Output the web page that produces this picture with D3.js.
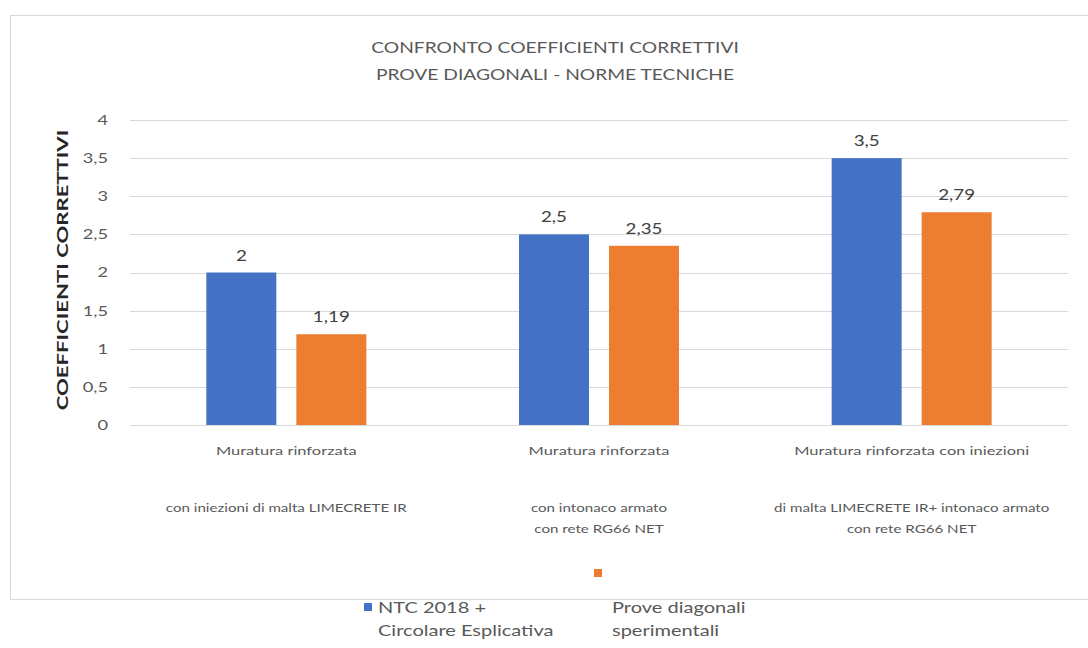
<!DOCTYPE html>
<html><head><meta charset="utf-8">
<script src="https://cdn.jsdelivr.net/npm/d3@7"></script>
<style>body{margin:0;background:#fff}svg{display:block;font-family:Lato,"Open Sans",sans-serif}</style>
</head><body><svg id="c" width="1088" height="648"></svg>
<script>
const categories = ["A","B","C"];
const catLine1 = ["Muratura rinforzata","Muratura rinforzata","Muratura rinforzata con iniezioni"];
const catLine2 = [["con iniezioni di malta LIMECRETE IR"],["con intonaco armato","con rete RG66 NET"],["di malta LIMECRETE IR+ intonaco armato","con rete RG66 NET"]];
const seriesNames = [["NTC 2018 +","Circolare Esplicativa"],["Prove diagonali","sperimentali"]];
const ntc = [2, 2.5, 3.5];
const prove = [1.19, 2.35, 2.79];
const labelsNtc = ["2","2,5","3,5"];
const labelsProve = ["1,19","2,35","2,79"];
const yTicks = [0,0.5,1,1.5,2,2.5,3,3.5,4];
const yTickLabels = ["0","0,5","1","1,5","2","2,5","3","3,5","4"];
const titleLines = ["CONFRONTO COEFFICIENTI CORRETTIVI","PROVE DIAGONALI - NORME TECNICHE"];
const yTitle = "COEFFICIENTI CORRETTIVI";
const colors = ["#4472C4","#ED7D31"];

const svg = d3.select("#c");
function widen(sel, f){
  sel.each(function(){
    const w = this.getComputedTextLength();
    this.setAttribute("textLength", w*f);
    this.setAttribute("lengthAdjust","spacingAndGlyphs");
  });
}
// chart border
svg.append("rect").attr("x",10.5).attr("y",15.5).attr("width",1100).attr("height",584)
  .attr("fill","none").attr("stroke","#d9d9d9");

const x = d3.scaleBand().domain(categories).range([130,1068]);
const y = d3.scaleLinear().domain([0,4]).range([425,120]);

// grid
svg.append("g").selectAll("line").data(yTicks).join("line")
  .attr("x1",130).attr("x2",1068).attr("y1",d=>Math.round(y(d))+0.5).attr("y2",d=>Math.round(y(d))+0.5)
  .attr("stroke","#d9d9d9");

// y tick labels
widen(svg.append("g").selectAll("text").data(yTicks).join("text")
  .attr("x",108).attr("y",d=>y(d)).attr("dy","0.35em").attr("text-anchor","end")
  .attr("font-size",14).attr("fill","#595959").text((d,i)=>yTickLabels[i]), 1.3);

// y title
widen(svg.append("text").attr("transform","translate(68,270) rotate(-90)").attr("text-anchor","middle")
  .attr("font-size",16).attr("font-weight","bold").attr("fill","#262626").text(yTitle), 1.38);

// title
widen(svg.append("g").selectAll("text").data(titleLines).join("text")
  .attr("x",555).attr("y",(d,i)=>53+i*27).attr("text-anchor","middle").attr("font-size",15)
  .attr("fill","#595959").text(d=>d), 1.28);

const bw = 70, gap = 20;
const series = [ntc, prove];
const labs = [labelsNtc, labelsProve];
series.forEach((s,si)=>{
  const g = svg.append("g");
  g.selectAll("rect").data(s).join("rect")
    .attr("x",(d,i)=>x(categories[i])+x.bandwidth()/2 - bw - gap/2 + si*(bw+gap))
    .attr("y",d=>y(d)).attr("width",bw).attr("height",d=>y(0)-y(d)).attr("fill",colors[si]);
  widen(g.selectAll("text").data(s).join("text")
    .attr("x",(d,i)=>x(categories[i])+x.bandwidth()/2 - bw/2 - gap/2 + si*(bw+gap))
    .attr("y",d=>y(d)-12).attr("text-anchor","middle").attr("font-size",15).attr("fill","#404040")
    .text((d,i)=>labs[si][i]), 1.25);
});

// category labels
categories.forEach((c,i)=>{
  const cx = x(c)+x.bandwidth()/2;
  widen(svg.append("text").attr("x",cx).attr("y",455).attr("text-anchor","middle").attr("font-size",12).attr("fill","#595959").text(catLine1[i]), 1.37);
  catLine2[i].forEach((t,j)=>{
    widen(svg.append("text").attr("x",cx).attr("y",512+j*21).attr("text-anchor","middle").attr("font-size",12).attr("fill","#595959").text(t), 1.26);
  });
});

// legend
svg.append("rect").attr("x",364).attr("y",603).attr("width",8).attr("height",8).attr("fill",colors[0]);
svg.append("rect").attr("x",594).attr("y",569).attr("width",8).attr("height",8).attr("fill",colors[1]);
seriesNames.forEach((names,si)=>{
  widen(svg.append("g").selectAll("text").data(names).join("text")
    .attr("x",si===0?378:612).attr("y",(d,j)=>613+j*23).attr("font-size",16).attr("fill","#595959").text(d=>d), 1.25);
});
</script></body></html>
